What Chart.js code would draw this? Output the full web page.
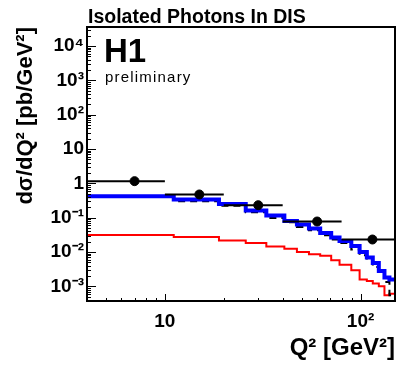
<!DOCTYPE html>
<html lang="en">
<head>
<meta charset="UTF-8">
<title>Isolated Photons In DIS</title>
<style>
  body { margin: 0; background: #fff; }
  canvas { display: block; }
</style>
</head>
<body>
<canvas id="chart" width="406" height="373"></canvas>
<script src="https://cdn.jsdelivr.net/npm/chart.js@4"></script>
<script>
// MC histogram bin edges (Q^2 in GeV^2)
const binEdges = [4, 11.1, 18.9, 25.9, 33, 40.8, 47.3, 54.5, 62.2, 70.8, 78.1, 89.7, 98.9, 107.7, 115.5, 124, 132.5, 140.5, 150];
const blueMC = [0.423, 0.339, 0.252, 0.162, 0.1157, 0.0805, 0.0632, 0.0483, 0.036, 0.0264, 0.021, 0.015, 0.01, 0.0069, 0.0048, 0.0028, 0.0018, 0.00157];
const dashedMC = [0.42, 0.303, 0.221, 0.144, 0.0985, 0.0738, 0.0538, 0.0431, 0.0308, 0.0231, 0.0184, 0.0118, 0.008, 0.00575, 0.00366, 0.00262, 0.00134, 0.00055];
const redMC = [0.0314, 0.0275, 0.0216, 0.0184, 0.0144, 0.0125, 0.01, 0.0086, 0.0078, 0.00575, 0.00425, 0.00293, 0.00157, 0.00143, 0.0012, 0.001, 0.00055, 0.00061];

// H1 preliminary data points
const dataQ2 = [7, 15, 30, 60, 115];
const dataQ2Low = [4, 10, 20, 40, 80];
const dataQ2High = [10, 20, 40, 80, 150];
const dataXsec = [1.16, 0.474, 0.231, 0.0773, 0.0231];
const dataXsecLow = [1.08, 0.435, 0.203, 0.07, 0.0203];
const dataXsecHigh = [1.24, 0.513, 0.259, 0.085, 0.0259];

// tick labels
const xTickValues = [10, 100];
const xTickLabels = ['10', '10²'];
const yTickValues = [1e-3, 1e-2, 1e-1, 1, 10, 1e2, 1e3, 1e4];
const yTickLabels = ['10⁻³', '10⁻²', '10⁻¹', '1', '10', '10²', '10³', '10⁴'];

const FONT = "Arial, 'Liberation Sans', Helvetica, sans-serif";

function histPoints(values) {
  const pts = values.map((v, i) => ({ x: binEdges[i], y: v }));
  pts.push({ x: binEdges[binEdges.length - 1], y: values[values.length - 1] });
  return pts;
}

// frame, inward ticks, error bars and labels in the ROOT style
const rootStyle = {
  id: 'rootStyle',
  afterDatasetsDraw(chart) {
    const { ctx, chartArea: a, scales: { x, y } } = chart;
    ctx.save();
    ctx.beginPath();
    ctx.rect(a.left, a.top, a.right - a.left, a.bottom - a.top);
    ctx.clip();
    ctx.strokeStyle = '#000';
    ctx.lineWidth = 2;
    dataQ2.forEach((q, i) => {
      const py = y.getPixelForValue(dataXsec[i]);
      const px = x.getPixelForValue(q);
      ctx.beginPath();
      ctx.moveTo(x.getPixelForValue(dataQ2Low[i]), py);
      ctx.lineTo(x.getPixelForValue(dataQ2High[i]), py);
      ctx.moveTo(px, y.getPixelForValue(dataXsecLow[i]));
      ctx.lineTo(px, y.getPixelForValue(dataXsecHigh[i]));
      ctx.stroke();
    });
    ctx.restore();
  },
  afterDraw(chart) {
    const { ctx, chartArea: a, scales: { x, y } } = chart;
    ctx.save();
    ctx.strokeStyle = '#000';
    ctx.lineWidth = 1;
    ctx.beginPath();
    for (let n = -4; n <= 4; n++) {
      for (let k = 1; k <= 9; k++) {
        const v = k * Math.pow(10, n);
        if (v < y.min || v > y.max) continue;
        const py = Math.round(y.getPixelForValue(v)) + 0.5;
        ctx.moveTo(a.left, py);
        ctx.lineTo(a.left + (k === 1 ? 9 : 4), py);
      }
    }
    for (let n = 0; n <= 2; n++) {
      for (let k = 1; k <= 9; k++) {
        const v = k * Math.pow(10, n);
        if (v < x.min || v > x.max) continue;
        const px = Math.round(x.getPixelForValue(v)) + 0.5;
        ctx.moveTo(px, a.bottom);
        ctx.lineTo(px, a.bottom - (k === 1 ? 7 : 3));
      }
    }
    ctx.stroke();
    ctx.lineWidth = 2;
    ctx.strokeRect(a.left, a.top, a.right - a.left, a.bottom - a.top);

    ctx.fillStyle = '#000';
    ctx.textBaseline = 'alphabetic';
    ctx.textAlign = 'left';
    ctx.font = 'bold 19.5px ' + FONT;
    ctx.fillText('Isolated Photons In DIS', 88, 23);
    ctx.font = 'bold 33px ' + FONT;
    ctx.fillText('H1', 104, 62);
    ctx.font = '15px ' + FONT;
    ctx.letterSpacing = '1.2px';
    ctx.fillText('preliminary', 105, 82);
    ctx.restore();
  }
};

new Chart(document.getElementById('chart'), {
  type: 'scatter',
  data: {
    datasets: [
      {
        label: 'H1 data',
        data: dataQ2.map((q, i) => ({ x: q, y: dataXsec[i] })),
        backgroundColor: '#000',
        borderColor: '#000',
        pointRadius: 4.5,
        order: 0
      },
      {
        label: 'MC (blue)',
        data: histPoints(blueMC),
        showLine: true,
        stepped: true,
        borderColor: '#0000ff',
        borderWidth: 4,
        pointRadius: 0,
        order: 1
      },
      {
        label: 'MC (dashed)',
        data: histPoints(dashedMC),
        showLine: true,
        stepped: true,
        borderColor: '#000',
        borderWidth: 2,
        borderDash: [7, 5],
        pointRadius: 0,
        order: 2
      },
      {
        label: 'MC (red)',
        data: histPoints(redMC),
        showLine: true,
        stepped: true,
        borderColor: '#ff0000',
        borderWidth: 2,
        pointRadius: 0,
        order: 3
      }
    ]
  },
  options: {
    responsive: false,
    animation: false,
    layout: { padding: { top: 27, right: 11, left: 0, bottom: 0 } },
    plugins: { legend: { display: false }, tooltip: { enabled: false } },
    scales: {
      x: {
        type: 'logarithmic',
        min: 4,
        max: 150,
        grid: { display: false, drawTicks: false },
        border: { display: false },
        afterBuildTicks: s => { s.ticks = xTickValues.map(v => ({ value: v })); },
        afterFit: s => { s.height = 72; },
        ticks: {
          padding: 9,
          color: '#000',
          font: { family: FONT, size: 19, weight: 'bold' },
          maxRotation: 0,
          callback: v => xTickLabels[xTickValues.indexOf(v)]
        },
        title: {
          display: true,
          text: 'Q² [GeV²]',
          align: 'end',
          color: '#000',
          font: { family: FONT, size: 24, weight: 'bold' },
          padding: { top: 0, bottom: 10 }
        }
      },
      y: {
        type: 'logarithmic',
        min: 3.73e-4,
        max: 3.6e4,
        grid: { display: false, drawTicks: false },
        border: { display: false },
        afterBuildTicks: s => { s.ticks = yTickValues.map(v => ({ value: v })); },
        afterFit: s => { s.width = 87; },
        ticks: {
          padding: 3,
          color: '#000',
          font: { family: FONT, size: 19, weight: 'bold' },
          callback: v => yTickLabels[yTickValues.indexOf(v)]
        },
        title: {
          display: true,
          text: 'dσ/dQ² [pb/GeV²]',
          align: 'end',
          color: '#000',
          font: { family: FONT, size: 22, weight: 'bold' },
          padding: { top: 13, bottom: 0 }
        }
      }
    }
  },
  plugins: [rootStyle]
});
</script>
</body>
</html>
